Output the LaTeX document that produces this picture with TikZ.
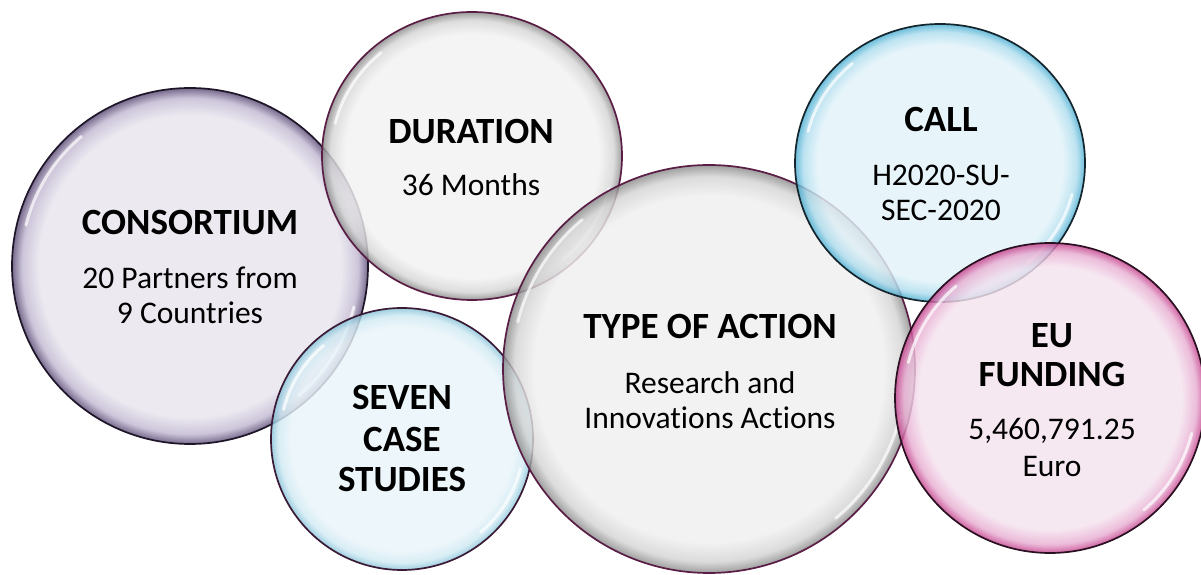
\documentclass[tikz,border=0pt]{standalone}
\usepackage{fontspec}
\setmainfont{Carlito}[Ligatures=NoCommon]

% bubble palettes: interior, rim ramp, outline
\definecolor{consIn}{HTML}{E8E5EE}
\definecolor{consMid}{HTML}{C2B9D2}
\definecolor{consRim}{HTML}{5A4A74}
\definecolor{consLine}{HTML}{1E1628}
\definecolor{durIn}{HTML}{F2F2F2}
\definecolor{durMid}{HTML}{D6D6D6}
\definecolor{durRim}{HTML}{8A8A8A}
\definecolor{durLine}{HTML}{5A1E46}
\definecolor{sevIn}{HTML}{EAF5FA}
\definecolor{sevMid}{HTML}{D0EAF3}
\definecolor{sevRim}{HTML}{88C3D8}
\definecolor{sevLine}{HTML}{3A1A35}
\definecolor{typIn}{HTML}{F0F0F0}
\definecolor{typMid}{HTML}{D4D4D4}
\definecolor{typRim}{HTML}{8A8A8A}
\definecolor{typLine}{HTML}{5A1E46}
\definecolor{callIn}{HTML}{E2F3FA}
\definecolor{callMid}{HTML}{AEDDEE}
\definecolor{callRim}{HTML}{4AAED2}
\definecolor{callLine}{HTML}{15252D}
\definecolor{euIn}{HTML}{F5E3EF}
\definecolor{euMid}{HTML}{E8AED2}
\definecolor{euRim}{HTML}{C4408C}
\definecolor{euLine}{HTML}{2A1020}

% radial ramps: the path's edge sits at 25bp
\newcommand\rimshading[4]{%
  \pgfdeclareradialshading{#1}{\pgfpointorigin}{color(0bp)=(#2); color(21.2bp)=(#2); color(23.6bp)=(#3); color(25bp)=(#4); color(50bp)=(#4)}}
\rimshading{consShade}{consIn}{consMid}{consRim}
\rimshading{durShade}{durIn}{durMid}{durRim}
\rimshading{sevShade}{sevIn}{sevMid}{sevRim}
\rimshading{typShade}{typIn}{typMid}{typRim}
\rimshading{callShade}{callIn}{callMid}{callRim}
\rimshading{euShade}{euIn}{euMid}{euRim}

% one glossy bubble: name, x, y, x radius, y radius, shading, outline colour
\newcommand\drawbubble[7]{%
  \coordinate (#1) at (#2,#3);
  \shade[shading=#6, fill opacity=0.82] (#1) ellipse [x radius=#4, y radius=#5];
  \pgfmathsetmacro\hlrx{#4-9}\pgfmathsetmacro\hlry{#5-9}%
  \draw[gloss] ([shift={(130:{\hlrx} and {\hlry})}]#1)
      arc[start angle=130, end angle=166, x radius=\hlrx, y radius=\hlry];
  \draw[gloss] ([shift={(-50:{\hlrx} and {\hlry})}]#1)
      arc[start angle=-50, end angle=-14, x radius=\hlrx, y radius=\hlry];
  \draw[#7, line width=1.7pt] (#1) ellipse [x radius=#4, y radius=#5];
}

\tikzset{
  gloss/.style={white, line width=3pt, line cap=round, opacity=0.7},
  head/.style={anchor=base, font=\fontsize{37}{40}\selectfont\bfseries, inner sep=0pt},
  body/.style={anchor=base, font=\fontsize{31.5}{36}\selectfont, inner sep=0pt}
}

\begin{document}
\begin{tikzpicture}[x=1pt, y=1pt]
  \fill[white] (0,0) rectangle (1201,575);
  \useasboundingbox (0,0) rectangle (1201,575);

  \drawbubble{cons}{190}{309}{178}{178}{consShade}{consLine}
  \drawbubble{dur}{472}{419}{150}{144}{durShade}{durLine}
  \drawbubble{sev}{402}{136}{131}{131}{sevShade}{sevLine}
  \drawbubble{typ}{709}{206}{206}{204}{typShade}{typLine}
  \drawbubble{call}{940}{412}{145}{139}{callShade}{callLine}
  \drawbubble{eu}{1050}{177}{155}{155}{euShade}{euLine}

  % consortium
  \node[head] (consH) at (190,340) {CONSORTIUM};
  \node[body] (consA) at (190,286) {20 Partners from};
  \node[body] (consB) at (190,251) {9 Countries};
  % duration
  \node[head] (durH) at (471,431) {DURATION};
  \node[body] (durA) at (471,379) {36 Months};
  % call
  \node[head] (callH) at (941,443) {CALL};
  \node[body] (callA) at (941,389) {H2020-SU-};
  \node[body] (callB) at (941,354) {SEC-2020};
  % type of action
  \node[head] (typH) at (710,236) {TYPE OF ACTION};
  \node[body] (typA) at (710,181) {Research and};
  \node[body] (typB) at (710,146) {Innovations Actions};
  % case studies
  \node[head] (sevA) at (402,165) {SEVEN};
  \node[head] (sevB) at (402,123) {CASE};
  \node[head] (sevC) at (402,83) {STUDIES};
  % funding
  \node[head] (euA) at (1052,227) {EU};
  \node[head] (euB) at (1052,188) {FUNDING};
  \node[body] (euC) at (1052,135) {5,460,791.25};
  \node[body] (euD) at (1052,98) {Euro};
\end{tikzpicture}
\end{document}
